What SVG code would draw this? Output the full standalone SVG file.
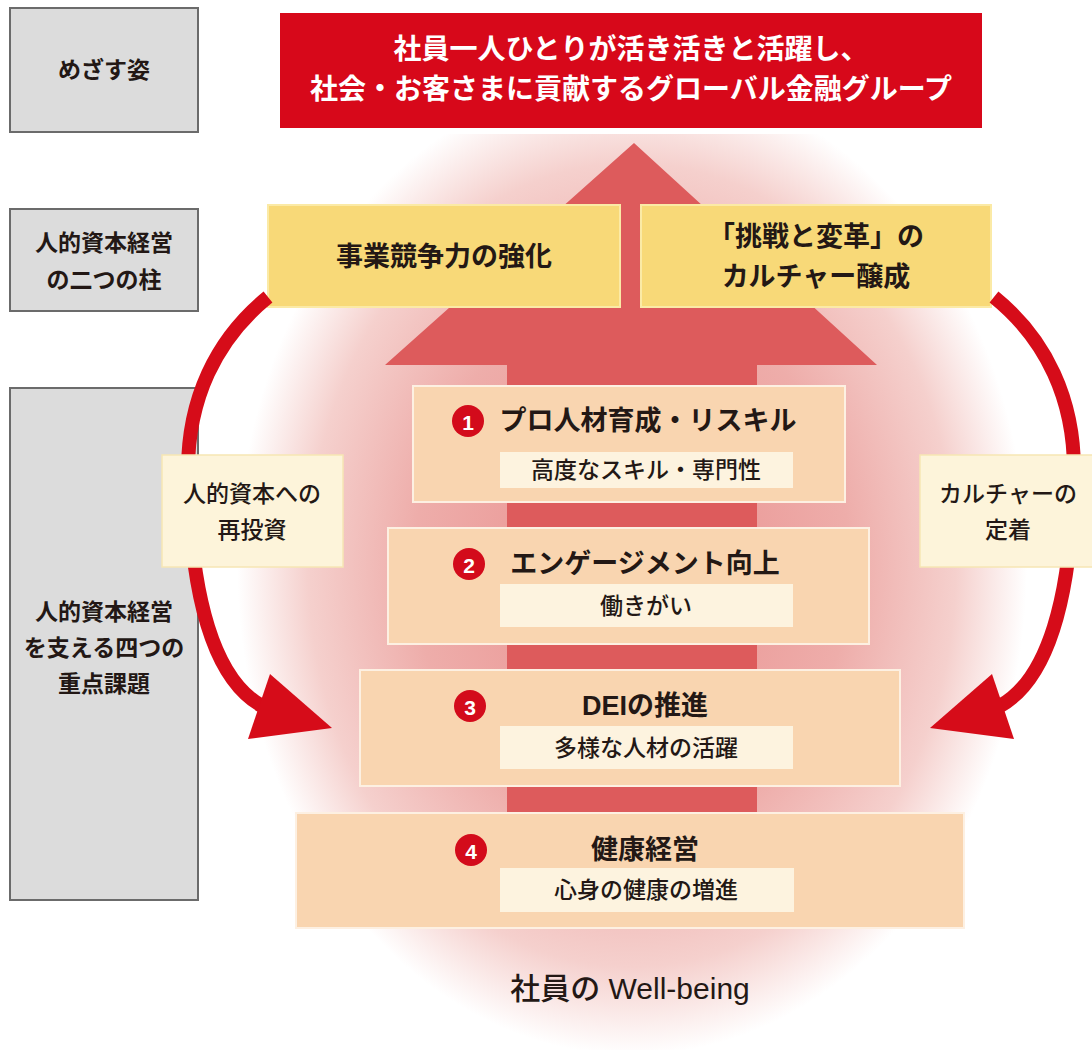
<svg xmlns="http://www.w3.org/2000/svg" width="1092" height="1050" viewBox="0 0 1092 1050">
  <defs>
    <radialGradient id="glow" cx="632" cy="565" r="1" gradientUnits="userSpaceOnUse" gradientTransform="translate(632 565) scale(395 490) translate(-632 -565)">
      <stop offset="0" stop-color="#e98e8d"/>
      <stop offset="0.55" stop-color="#eeadaa"/>
      <stop offset="0.82" stop-color="#f5d0cd"/>
      <stop offset="1" stop-color="#ffffff"/>
    </radialGradient>
    <clipPath id="below">
      <rect x="0" y="134" width="1092" height="916"/>
    </clipPath>
  </defs>
  <style>
    text { font-family: "Liberation Sans", "Noto Sans CJK JP", sans-serif; fill: #231815; text-anchor: middle; dominant-baseline: central; }
    .gray { fill: #dcdcdc; stroke: #6b6b6b; stroke-width: 2; }
    .gl { font-size: 23px; font-weight: 700; }
    .top { fill: #d7081a; }
    .tt { fill: #ffffff; font-size: 28px; font-weight: 700; }
    .yel { fill: #f8d978; stroke: #fbeaa6; stroke-width: 2; }
    .yt { font-size: 27px; font-weight: 700; }
    .issue { fill: #f9d5b0; stroke: #fdf0e2; stroke-width: 2; }
    .sub { fill: #fdf3df; }
    .it { font-size: 27px; font-weight: 700; }
    .st { font-size: 23px; font-weight: 500; }
    .lab { fill: #fdf4da; stroke: #f6e6b4; stroke-width: 1.5; }
    .lt { font-size: 23px; font-weight: 500; }
    .num { fill: #d30b1b; }
    .nt { fill: #ffffff; font-size: 21px; font-weight: 700; }
    .arc { fill: none; stroke: #d60c19; stroke-width: 14; }
    .head { fill: #d60c19; }
  </style>

  <ellipse cx="632" cy="565" rx="395" ry="490" fill="url(#glow)" clip-path="url(#below)"/>

  <g id="big-arrow">
    <polygon points="634,143 877,365 757,365 757,815 507,815 507,365 385,365" fill="#dd5b5c"/>
  </g>

  <g id="label-mezasu">
    <rect class="gray" x="10" y="8" width="188" height="124"/>
    <text class="gl" x="104" y="70">めざす姿</text>
  </g>
  <g id="label-pillars">
    <rect class="gray" x="10" y="209" width="188" height="102"/>
    <text class="gl" x="104" y="243">人的資本経営</text>
    <text class="gl" x="104" y="280">の二つの柱</text>
  </g>
  <g id="label-issues">
    <rect class="gray" x="10" y="388" width="188" height="512"/>
    <text class="gl" x="104" y="612">人的資本経営</text>
    <text class="gl" x="104" y="648">を支える四つの</text>
    <text class="gl" x="104" y="684">重点課題</text>
  </g>

  <g id="goal">
    <rect class="top" x="280" y="13" width="702" height="115"/>
    <text class="tt" x="631" y="49">社員一人ひとりが活き活きと活躍し、</text>
    <text class="tt" x="631" y="89">社会・お客さまに貢献するグローバル金融グループ</text>
  </g>

  <g id="pillar-1">
    <rect class="yel" x="268" y="205" width="352" height="102"/>
    <text class="yt" x="444" y="257">事業競争力の強化</text>
  </g>
  <g id="pillar-2">
    <rect class="yel" x="641" y="205" width="350" height="102"/>
    <text class="yt" x="816" y="237">「挑戦と変革」の</text>
    <text class="yt" x="816" y="277">カルチャー醸成</text>
  </g>

  <g id="connectors">
    <path class="arc" d="M 268 297 C 215 340 188 400 188 470 C 190 600 215 680 262 706"/>
    <polygon class="head" points="332,728 270,674 248,739"/>
    <path class="arc" d="M 994 297 C 1047 340 1074 400 1074 470 C 1072 600 1047 680 1000 706"/>
    <polygon class="head" points="930,728 992,674 1014,739"/>
  </g>

  <g id="label-reinvest">
    <rect class="lab" x="162" y="455" width="181" height="112"/>
    <text class="lt" x="252" y="494">人的資本への</text>
    <text class="lt" x="252" y="530">再投資</text>
  </g>
  <g id="label-culture">
    <rect class="lab" x="920" y="455" width="175" height="112"/>
    <text class="lt" x="1008" y="494">カルチャーの</text>
    <text class="lt" x="1008" y="530">定着</text>
  </g>

  <g id="issue-1">
    <rect class="issue" x="413" y="386" width="432" height="116"/>
    <circle class="num" cx="468" cy="421" r="16"/>
    <text class="nt" x="468" y="422">1</text>
    <text class="it" x="648" y="421">プロ人材育成・リスキル</text>
    <rect class="sub" x="500" y="452" width="293" height="36"/>
    <text class="st" x="646" y="470">高度なスキル・専門性</text>
  </g>
  <g id="issue-2">
    <rect class="issue" x="388" y="528" width="481" height="116"/>
    <circle class="num" cx="469" cy="564" r="16"/>
    <text class="nt" x="469" y="565">2</text>
    <text class="it" x="645" y="564">エンゲージメント向上</text>
    <rect class="sub" x="500" y="584" width="293" height="43"/>
    <text class="st" x="646" y="606">働きがい</text>
  </g>
  <g id="issue-3">
    <rect class="issue" x="360" y="670" width="540" height="116"/>
    <circle class="num" cx="470" cy="706" r="16"/>
    <text class="nt" x="470" y="707">3</text>
    <text class="it" x="645" y="706">DEIの推進</text>
    <rect class="sub" x="500" y="726" width="293" height="43"/>
    <text class="st" x="646" y="748">多様な人材の活躍</text>
  </g>
  <g id="issue-4">
    <rect class="issue" x="296" y="813" width="668" height="115"/>
    <circle class="num" cx="471" cy="850" r="16"/>
    <text class="nt" x="471" y="851">4</text>
    <text class="it" x="645" y="850">健康経営</text>
    <rect class="sub" x="500" y="868" width="294" height="44"/>
    <text class="st" x="646" y="890">心身の健康の増進</text>
  </g>

  <g id="wellbeing">
    <text x="630" y="988" style="font-size:30px;font-weight:500">社員の Well-being</text>
  </g>
</svg>
